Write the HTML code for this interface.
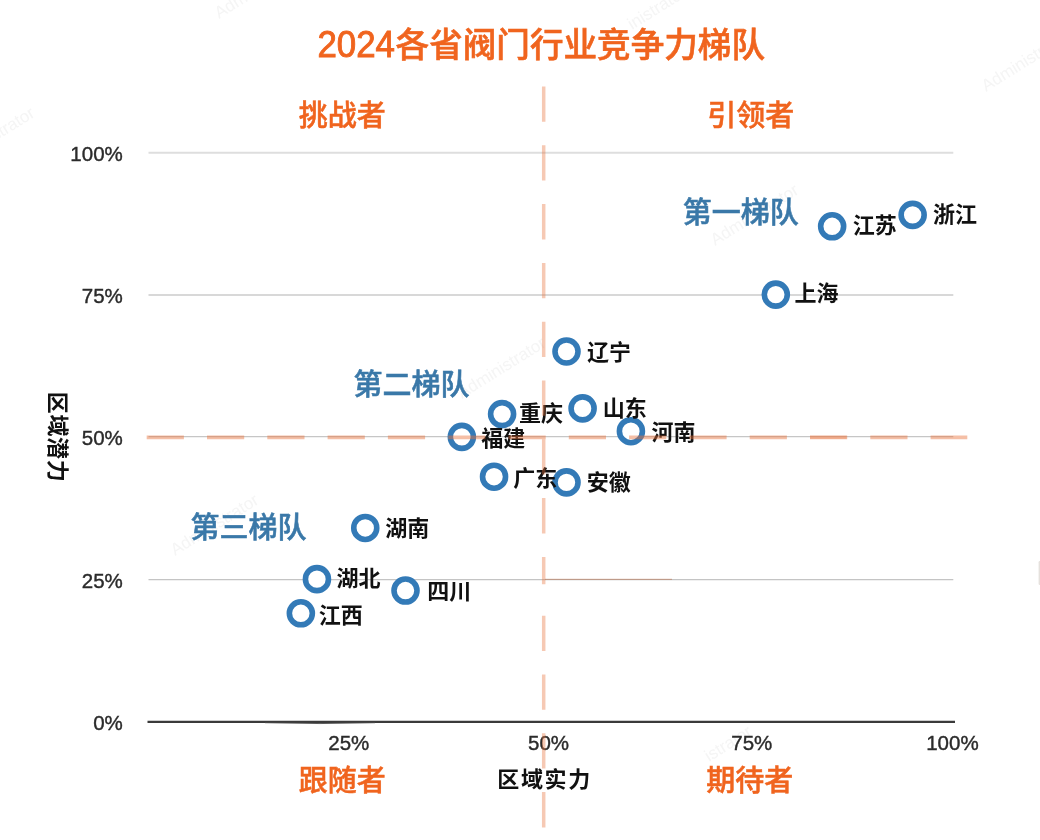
<!DOCTYPE html>
<html lang="zh-CN">
<head>
<meta charset="utf-8">
<title>2024各省阀门行业竞争力梯队</title>
<style>
html,body{margin:0;padding:0;background:#fff;}
body{width:1040px;height:840px;overflow:hidden;font-family:"Liberation Sans", "Noto Sans CJK SC", sans-serif;}
svg{display:block;}
.t{font-family:"Liberation Sans", "Noto Sans CJK SC", sans-serif;}
.title{font-size:34px;font-weight:500;fill:#f0641e;stroke:#f0641e;stroke-width:0.6px;}
.quad{font-size:29px;font-weight:500;fill:#f0641e;stroke:#f0641e;stroke-width:0.5px;}
.tier{font-size:29px;font-weight:500;fill:#3a78a8;stroke:#3a78a8;stroke-width:0.55px;}
.lab{font-size:22px;font-weight:700;fill:#111;}
.axt{font-size:22px;font-weight:700;fill:#111;letter-spacing:1.7px;}
.wm{font-family:"Liberation Sans", sans-serif;font-size:17px;fill:#f5f5f5;}
.tick{font-family:"Liberation Sans", sans-serif;font-size:20.5px;fill:#2b2b2b;stroke:#2b2b2b;stroke-width:0.4px;}
</style>
</head>
<body>
<svg width="1040" height="840" viewBox="0 0 1040 840">
<rect width="1040" height="840" fill="#ffffff"/>

<g class="wm">
<text transform="translate(175 556) rotate(-32)">Administrator</text>
<text transform="translate(715 246) rotate(-32)">Administrator</text>
<text transform="translate(462 399) rotate(-32)">Administrator</text>
<text transform="translate(219 19) rotate(-32)">Administrator</text>
<text transform="translate(-49 169) rotate(-32)">Administrator</text>
<text transform="translate(632 30) rotate(-32)">inistrator</text>
<text transform="translate(986 92) rotate(-32)">Administrator</text>
<text transform="translate(709 762) rotate(-32)">istrator</text>
</g>
<g fill="none">
<line x1="148.5" x2="953.3" y1="152.70" y2="152.70" stroke="#dedede" stroke-width="2"/>
<line x1="148.5" x2="953.3" y1="294.99" y2="294.99" stroke="#d8d8d8" stroke-width="2"/>
<line x1="148.5" x2="953.3" y1="579.56" y2="579.56" stroke="#c4c4c4" stroke-width="1.3"/>
<line x1="148.5" x2="953.3" y1="436.6" y2="436.6" stroke="#c6c6c6" stroke-width="1.3"/>
<line x1="147.5" x2="955" y1="721.85" y2="721.85" stroke="#3a3a3a" stroke-width="2.2"/>
<path d="M265 722.7 Q320 724.4 375 722.7" stroke="#4a4a4a" stroke-width="0.9"/>
<rect x="1038.6" y="561" width="3" height="24" rx="1.2" fill="#e5e1dd" stroke="none"/>
</g>
<g class="tick" text-anchor="end">
<text x="122.8" y="160.80">100%</text>
<text x="122.8" y="303.09">75%</text>
<text x="122.8" y="445.37">50%</text>
<text x="122.8" y="587.66">25%</text>
<text x="122.8" y="729.95">0%</text>
</g>
<g class="tick" text-anchor="middle">
<text x="348.8" y="750.2">25%</text>
<text x="548.5" y="750.2">50%</text>
<text x="751.8" y="750.2">75%</text>
<text x="952.4" y="750.2">100%</text>
</g>
<text class="t title" x="317.4" y="57.3"><tspan font-size="36.3px" textLength="77.5" lengthAdjust="spacingAndGlyphs" stroke-width="0.9">2024</tspan><tspan x="395.6" font-size="33.6px">各省阀门行业竞争力梯队</tspan></text>
<text class="t quad" x="342.2" y="125.6" text-anchor="middle">挑战者</text>
<text class="t quad" x="750.7" y="125.6" text-anchor="middle">引领者</text>
<text class="t quad" x="342.2" y="790.6" text-anchor="middle">跟随者</text>
<text class="t quad" x="749.7" y="790.6" text-anchor="middle">期待者</text>
<text class="t tier" x="740.7" y="223.1" text-anchor="middle">第一梯队</text>
<text class="t tier" x="411.5" y="394.5" text-anchor="middle">第二梯队</text>
<text class="t tier" x="248.5" y="537.6" text-anchor="middle">第三梯队</text>
<text class="t axt" x="544.6" y="787.4" text-anchor="middle">区域实力</text>
<text class="t axt" style="letter-spacing:0.7px" transform="translate(57.9 436.8) rotate(90)" x="0.3" y="8.2" text-anchor="middle">区域潜力</text>
<g fill="#ffffff" stroke="#337ab7" stroke-width="5.6">
<circle cx="912.65" cy="214.91" r="11.5"/>
<circle cx="832.15" cy="226.29" r="11.5"/>
<circle cx="775.80" cy="294.59" r="11.5"/>
<circle cx="566.50" cy="351.50" r="11.5"/>
<circle cx="582.60" cy="408.42" r="11.5"/>
<circle cx="502.10" cy="414.11" r="11.5"/>
<circle cx="630.90" cy="431.18" r="11.5"/>
<circle cx="461.85" cy="436.88" r="11.5"/>
<circle cx="494.05" cy="476.72" r="11.5"/>
<circle cx="566.50" cy="482.41" r="11.5"/>
<circle cx="365.25" cy="527.94" r="11.5"/>
<circle cx="316.95" cy="579.16" r="11.5"/>
<circle cx="405.50" cy="590.55" r="11.5"/>
<circle cx="300.85" cy="613.31" r="11.5"/>
</g>
<g class="t lab">
<text x="932.95" y="222.11">浙江</text>
<text x="852.65" y="233.19">江苏</text>
<text x="794.60" y="300.99">上海</text>
<text x="587.00" y="360.40">辽宁</text>
<text x="602.80" y="416.32">山东</text>
<text x="519.00" y="420.91">重庆</text>
<text x="651.40" y="440.28">河南</text>
<text x="481.35" y="445.97">福建</text>
<text x="513.35" y="485.82">广东</text>
<text x="586.80" y="489.81">安徽</text>
<text x="385.35" y="536.34">湖南</text>
<text x="336.45" y="586.06">湖北</text>
<text x="427.20" y="599.45">四川</text>
<text x="318.85" y="623.41">江西</text>
</g>
<g fill="none" stroke="#e8703a">
<line x1="146.7" x2="967.3" y1="437.4" y2="437.4" stroke-opacity="0.45" stroke-width="3.6" stroke-dasharray="37.2 23.1"/>
<line x1="543.7" x2="543.7" y1="86.5" y2="584.3" stroke-opacity="0.38" stroke-width="3.5" stroke-dasharray="35.3 23.5"/>
<line x1="543.7" x2="543.7" y1="615.7" y2="827.5" stroke-opacity="0.38" stroke-width="3.5" stroke-dasharray="35.3 23.5"/>
<line x1="810" x2="846.5" y1="437.4" y2="437.4" stroke-opacity="0.22" stroke-width="3.2"/>
<line x1="545" x2="672" y1="579.3" y2="579.3" stroke="#b8673f" stroke-opacity="0.55" stroke-width="1"/>
</g>
</svg>
</body>
</html>
